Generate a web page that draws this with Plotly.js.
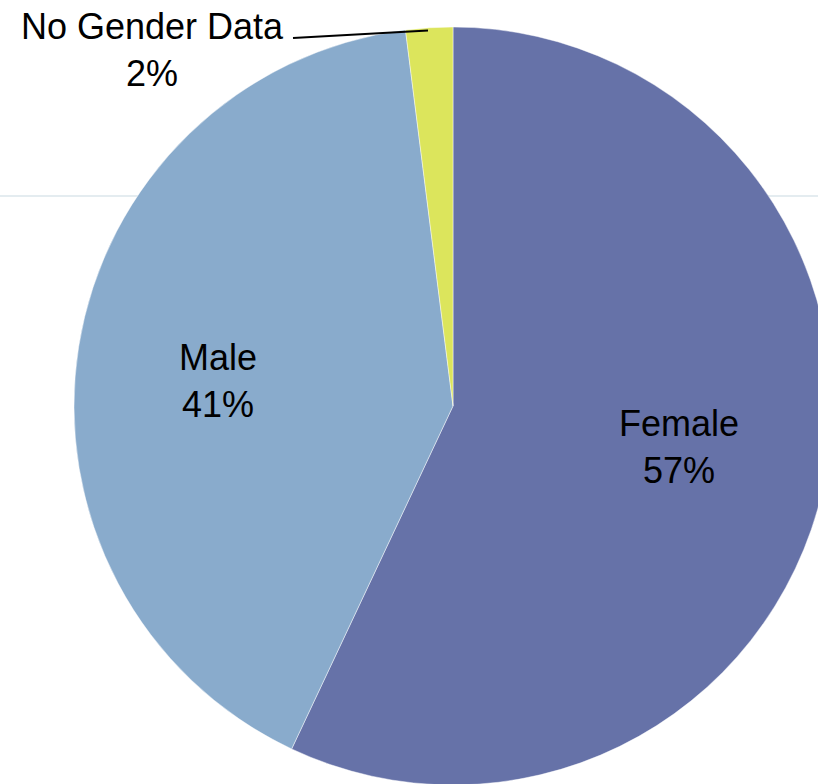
<!DOCTYPE html>
<html>
<head>
<meta charset="utf-8">
<script src="https://cdn.plot.ly/plotly-3.0.1.min.js"></script>
<style>
html,body{margin:0;padding:0;background:#fff;overflow:hidden;width:818px;height:784px;}
#chart{position:absolute;left:0;top:0;width:900px;height:800px;}
</style>
</head>
<body>
<div id="chart"></div>
<script>
// Data
const labels = ['Female', 'Male', 'No Gender Data'];
const values = [57, 41, 2];
const sliceColors = ['#6672a8', '#89abcc', '#dce55c'];

// Canvas geometry (pixels)
const W = 900, H = 800;
const cx = 453, cy = 406, R = 379;
const px = x => x / W;
const py = y => 1 - y / H;

const total = values.reduce((a, b) => a + b, 0);
const pct = values.map(v => Math.round(v / total * 100) + '%');

// Label placements (pixels)
const labelPos = [
  {x: 679, y: 447},
  {x: 218, y: 381},
  {x: 152, y: 50}
];

const trace = {
  type: 'pie',
  labels: labels,
  values: values,
  sort: false,
  direction: 'clockwise',
  rotation: 0,
  textinfo: 'none',
  hoverinfo: 'label+percent',
  marker: {colors: sliceColors, line: {color: 'rgba(255,255,255,0.45)', width: 1}},
  domain: {x: [px(cx - R), px(cx + R)], y: [py(cy + R), py(cy - R)]},
  showlegend: false
};

const annotations = labels.map((l, i) => ({
  xref: 'paper', yref: 'paper',
  x: px(labelPos[i].x), y: py(labelPos[i].y),
  xanchor: 'center', yanchor: 'middle',
  text: l + '<br>' + pct[i],
  showarrow: false,
  font: {family: 'Liberation Sans, Arial, sans-serif', size: 36, color: '#000'}
}));

const layout = {
  width: W, height: H,
  margin: {l: 0, r: 0, t: 0, b: 0},
  paper_bgcolor: '#ffffff',
  plot_bgcolor: '#ffffff',
  showlegend: false,
  annotations: annotations,
  shapes: [
    {type: 'line', xref: 'paper', yref: 'paper', x0: 0, x1: 1, y0: py(196), y1: py(196),
     line: {color: '#c9d9e1', width: 1}, layer: 'below'},
    {type: 'line', xref: 'paper', yref: 'paper', x0: px(293), y0: py(38), x1: px(428), y1: py(30.5),
     line: {color: '#000', width: 2}, layer: 'above'}
  ]
};

Plotly.newPlot('chart', [trace], layout, {displayModeBar: false, staticPlot: true});
</script>
</body>
</html>
